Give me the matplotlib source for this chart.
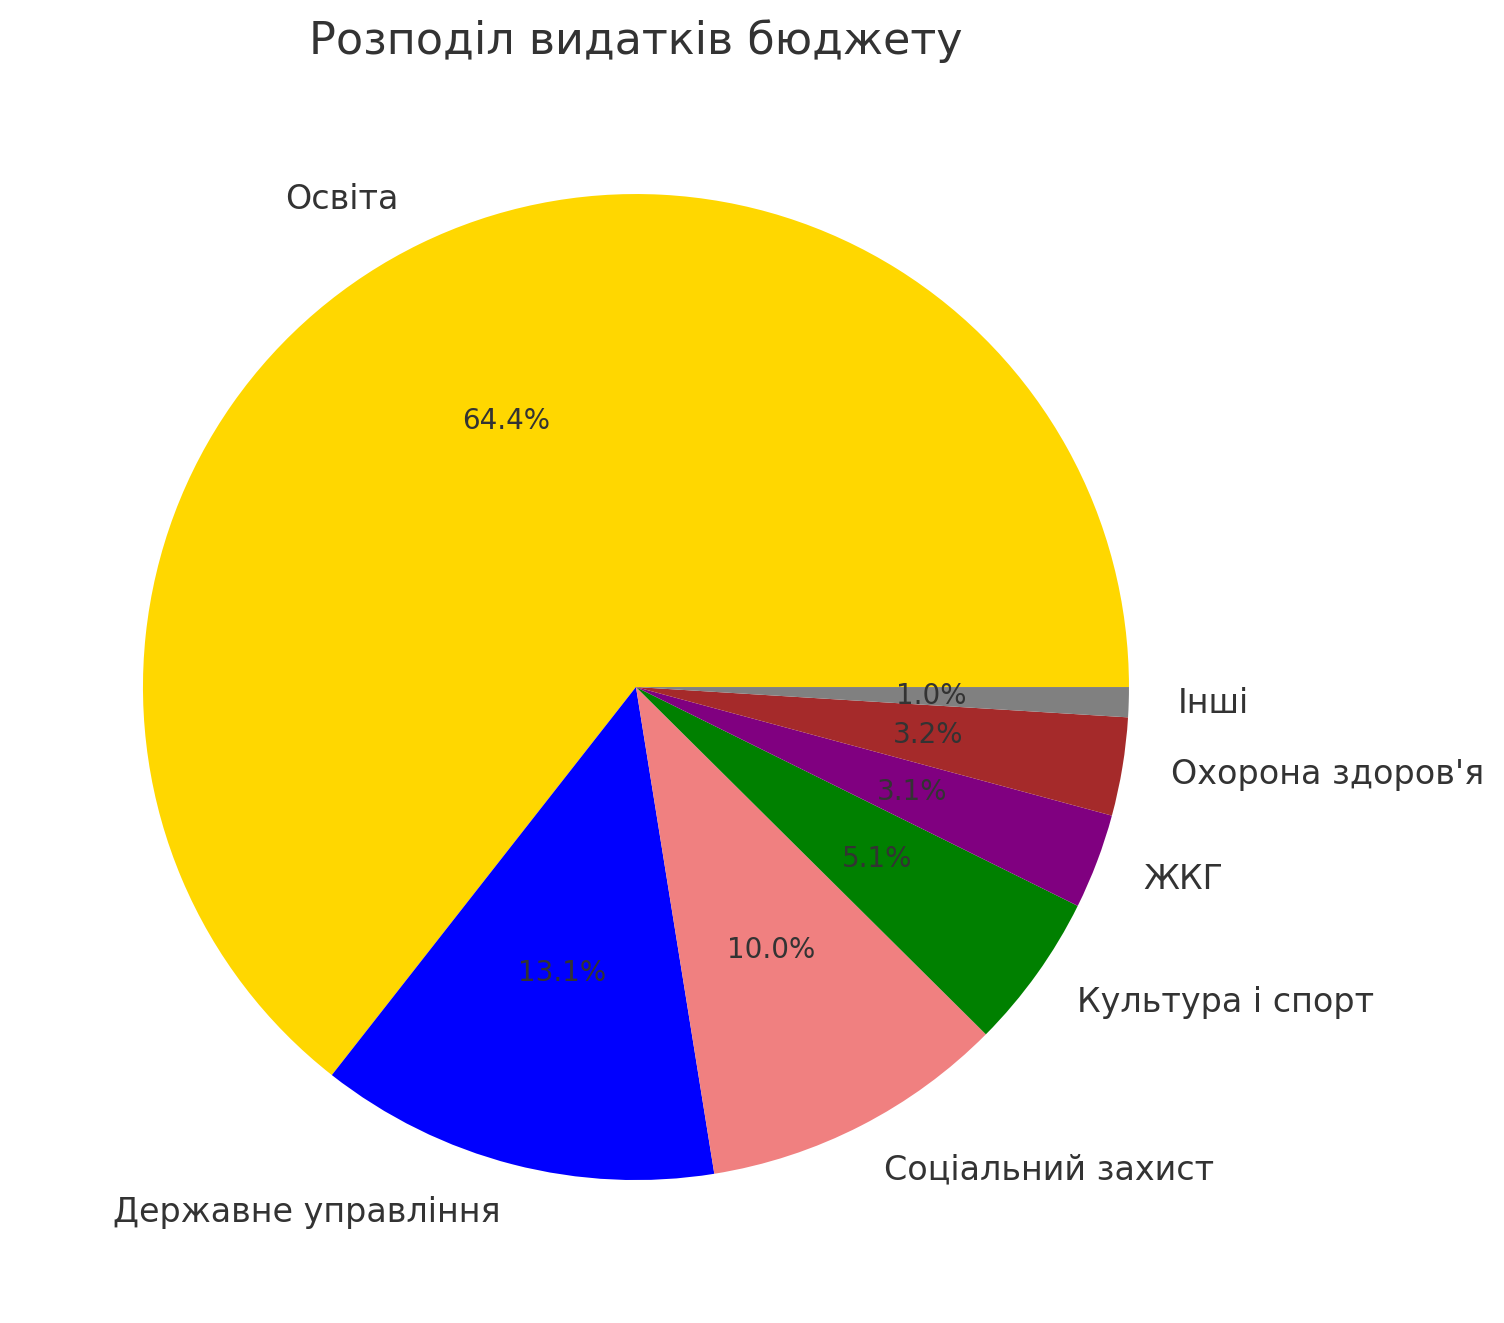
import matplotlib
matplotlib.use("Agg")
import matplotlib.pyplot as plt

# Розподіл видатків бюджету (частки, %)
categories = ["Освіта", "Державне управління", "Соціальний захист",
              "Культура і спорт", "ЖКГ", "Охорона здоров'я", "Інші"]
shares = [64.42, 13.12, 10.02, 5.12, 3.12, 3.22, 0.98]
colors = ["gold", "blue", "lightcoral", "green", "purple", "brown", "gray"]

plt.rcParams["font.family"] = ["DejaVu Sans"]
plt.rcParams["text.color"] = "#333333"

fig = plt.figure(figsize=(7.52, 6.615), dpi=200)
ax = fig.add_axes([0.0131, 0.0149, 0.8195, 0.9316])

ax.pie(shares, labels=categories, colors=colors, autopct="%1.1f%%",
       textprops={"fontsize": 12, "color": "#333333"})
for t in ax.texts:
    if t.get_text().endswith("%"):
        t.set_fontsize(10)

ax.set_title("Розподіл видатків бюджету", fontsize=16, color="#333333")
ax.set_xlim(-1.25, 1.25)
ax.set_ylim(-1.25, 1.25)
ax.set_aspect("equal", adjustable="box")

fig.savefig("out.png", dpi=200)
